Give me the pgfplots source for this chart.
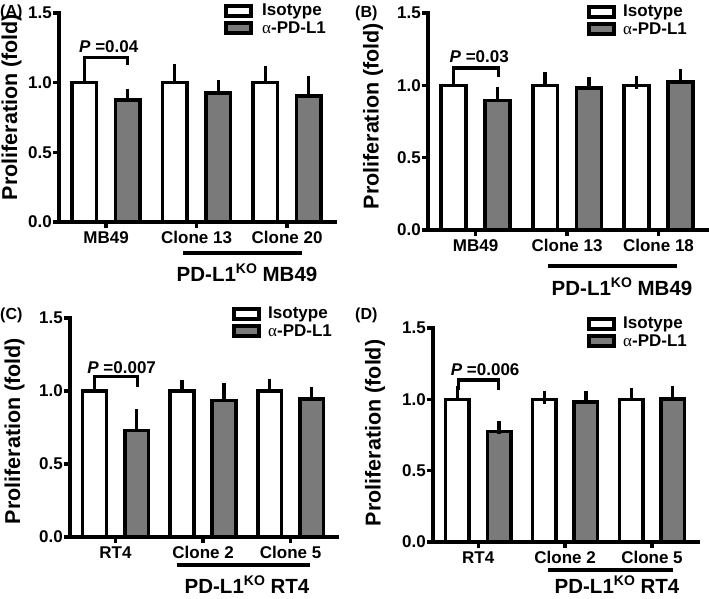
\documentclass[border=0pt]{standalone}
\usepackage{pgfplots}
\pgfplotsset{compat=1.18}
\usepackage{fontspec}
\setmainfont{Liberation Sans}
\newfontfamily\greekfont{Liberation Serif}
\definecolor{barGray}{RGB}{122,122,122}
\newcommand{\tickfont}{\fontsize{17}{17}\selectfont\bfseries}
\newcommand{\labfont}{\fontsize{20.5}{20.5}\selectfont\bfseries}
\newcommand{\ylabfont}{\fontsize{21.5}{21.5}\selectfont\bfseries}
\newcommand{\KO}{\raisebox{0.75ex}{\fontsize{14}{14}\selectfont KO}}
\newcommand{\apd}{{\greekfont\mdseries α}-PD-L1}
\tikzset{brk/.style={line width=3.2pt}}
\pgfplotsset{
  panel/.style={
    scale only axis,
    axis lines=left,
    axis line style={-, line width=3.6pt, black, line cap=rect},
    ymin=0, ymax=1.5,
    ytick={0,0.5,1,1.5},
    yticklabels={0.0,0.5,1.0,1.5},
    xmin=-0.52, xmax=2.53,
    xtick={0,1,2},
    tick align=outside,
    major tick length=6pt,
    tick style={line width=3.2pt, black},
    tick label style={font=\tickfont},
    yticklabel style={inner sep=1pt},
    ybar, bar width=0.27,
    clip=false,
    ylabel={Proliferation (fold)},
    ylabel style={font=\ylabfont, anchor=center},
    error bars/y dir=plus, error bars/y explicit,
    error bars/error bar style={line width=3.2pt, black},
    error bars/error mark options={line width=3.2pt, black, mark size=6.5pt},
  },
  iso/.style={draw=black, fill=white, line width=3.6pt, bar shift=-0.24},
  apd/.style={draw=black, fill=barGray, line width=3.6pt, bar shift=0.24},
}
\begin{document}
\begin{tikzpicture}[x=1pt,y=1pt]
% ---------------- (A)
\begin{axis}[panel, at={(59pt,376pt)}, anchor=south west, width=276pt, height=209pt,
  xticklabels={MB49, Clone 13, Clone 20},
  ylabel style={at={(axis description cs:-0.172,0.55)}}]
\addplot[iso] coordinates {(0,1.0) +- (0,0.082) (1,1.0) +- (0,0.09) (2,1.0) +- (0,0.07)};
\addplot[apd] coordinates {(0,0.877) +- (0,0.033) (1,0.926) +- (0,0.043) (2,0.903) +- (0,0.10)};
\draw[brk] (axis cs:-0.24,1.13) -- (axis cs:-0.24,1.18) -- (axis cs:0.24,1.18) -- (axis cs:0.24,1.13);
\node[font=\tickfont] at (axis cs:0.03,1.256) {\textit{P} =0.04};
\end{axis}
% ---------------- (B)
\begin{axis}[panel, at={(428pt,368pt)}, anchor=south west, width=279pt, height=217pt,
  xticklabels={MB49, Clone 13, Clone 18},
  ylabel style={at={(axis description cs:-0.197,0.525)}}]
\addplot[iso] coordinates {(0,1.0) +- (0,0.03) (1,1.0) +- (0,0.045) (2,1.0) +- (0,0.022)};
\addplot[apd] coordinates {(0,0.895) +- (0,0.047) (1,0.98) +- (0,0.033) (2,1.022) +- (0,0.047)};
\draw[brk] (axis cs:-0.24,1.06) -- (axis cs:-0.24,1.12) -- (axis cs:0.25,1.12) -- (axis cs:0.25,1.06);
\node[font=\tickfont] at (axis cs:0.04,1.20) {\textit{P} =0.03};
\end{axis}
% ---------------- (C)
\begin{axis}[panel, at={(70pt,61pt)}, anchor=south west, width=267pt, height=219pt,
  xticklabels={RT4, Clone 2, Clone 5},
  ylabel style={at={(axis description cs:-0.208,0.484)}}]
\addplot[iso] coordinates {(0,1.0) +- (0,0.03) (1,1.0) +- (0,0.03) (2,1.0) +- (0,0.04)};
\addplot[apd] coordinates {(0,0.73) +- (0,0.10) (1,0.935) +- (0,0.075) (2,0.947) +- (0,0.033)};
\draw[brk] (axis cs:-0.24,1.03) -- (axis cs:-0.24,1.10) -- (axis cs:0.25,1.10) -- (axis cs:0.25,1.03);
\node[font=\tickfont] at (axis cs:0.07,1.16) {\textit{P} =0.007};
\end{axis}
% ---------------- (D)
\begin{axis}[panel, at={(433pt,56pt)}, anchor=south west, width=265pt, height=214pt,
  xticklabels={RT4, Clone 2, Clone 5},
  ylabel style={at={(axis description cs:-0.219,0.51)}}]
\addplot[iso] coordinates {(0,1.0) +- (0,0.05) (1,1.0) +- (0,0.015) (2,1.0) +- (0,0.033)};
\addplot[apd] coordinates {(0,0.775) +- (0,0.03) (1,0.982) +- (0,0.03) (2,1.003) +- (0,0.048)};
\draw[brk] (axis cs:-0.23,1.065) -- (axis cs:-0.23,1.135) -- (axis cs:0.23,1.135) -- (axis cs:0.23,1.065);
\node[font=\tickfont] at (axis cs:0.08,1.205) {\textit{P} =0.006};
\end{axis}
% ---------------- panel letters
\node[anchor=west, inner sep=0pt, font=\fontsize{16}{16}\selectfont\bfseries] at (0,586) {(A)};
\node[anchor=west, inner sep=0pt, font=\fontsize{16}{16}\selectfont\bfseries] at (355,585) {(B)};
\node[anchor=west, inner sep=0pt, font=\fontsize{16}{16}\selectfont\bfseries] at (0,283) {(C)};
\node[anchor=west, inner sep=0pt, font=\fontsize{16}{16}\selectfont\bfseries] at (355,283) {(D)};
% ---------------- legends
\foreach \bx/\by/\tx in {226/587/262, 589/586/623, 234/284/268, 589/274/623}{
  \draw[line width=3.2pt, fill=white] (\bx,\by-5) rectangle (\bx+25,\by+5);
  \draw[line width=3.2pt, fill=barGray] (\bx,\by-22) rectangle (\bx+25,\by-12);
  \node[anchor=west, inner sep=0pt, font=\tickfont] at (\tx,\by) {Isotype};
  \node[anchor=west, inner sep=0pt, font=\tickfont] at (\tx,\by-17) {\apd};
}
% ---------------- subgroup lines
\draw[line width=3.2pt] (183,345) -- (302,345);
\node[font=\labfont, inner sep=0pt] at (247,325) {PD-L1\KO\ MB49};
\draw[line width=3.2pt] (548,332) -- (677,332);
\node[font=\labfont, inner sep=0pt] at (622,311) {PD-L1\KO\ MB49};
\draw[line width=3.2pt] (177,33) -- (310,33);
\node[font=\labfont, inner sep=0pt] at (247,13) {PD-L1\KO\ RT4};
\draw[line width=3.2pt] (548,28) -- (673,28);
\node[font=\labfont, inner sep=0pt] at (617,13.5) {PD-L1\KO\ RT4};
\pgfresetboundingbox
\useasboundingbox (0,0) rectangle (709,598);
\end{tikzpicture}
\end{document}
